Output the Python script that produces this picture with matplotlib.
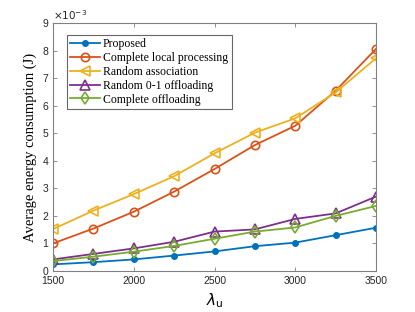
import matplotlib
matplotlib.use('Agg')
import matplotlib.pyplot as plt

# ==================== Data ====================
lam = [1500, 1750, 2000, 2250, 2500, 2750, 3000, 3250, 3500]

proposed = [0.24, 0.32, 0.42, 0.56, 0.71, 0.90, 1.03, 1.30, 1.57]
local_proc = [1.00, 1.54, 2.15, 2.88, 3.70, 4.57, 5.27, 6.54, 8.06]
rand_assoc = [1.52, 2.19, 2.79, 3.44, 4.27, 5.02, 5.54, 6.48, 7.72]
rand_01 = [0.42, 0.62, 0.82, 1.06, 1.43, 1.51, 1.89, 2.09, 2.70]
full_off = [0.36, 0.52, 0.70, 0.91, 1.17, 1.43, 1.58, 2.00, 2.36]

labels = ['Proposed', 'Complete local processing', 'Random association',
          'Random 0-1 offloading', 'Complete offloading']

# ==================== Plot ====================
fig = plt.figure(figsize=(4.15, 3.12), dpi=100)
ax = fig.add_axes([53 / 415, 1 - 271 / 312, (376 - 53) / 415, (271 - 23) / 312])

lw = 1.3
ax.plot(lam, proposed, '-o', color='#0072BD', lw=lw, ms=4, mfc='#0072BD', label=labels[0])
ax.plot(lam, local_proc, '-o', color='#D95319', lw=lw, ms=6, mfc='none', mew=1.2, label=labels[1])
ax.plot(lam, rand_assoc, '-<', color='#EDB120', lw=lw, ms=7, mfc='none', mew=1.2, label=labels[2])
ax.plot(lam, rand_01, '-^', color='#7E2F8E', lw=lw, ms=7, mfc='none', mew=1.2, label=labels[3])
ax.plot(lam, full_off, '-d', color='#77AC30', lw=lw, ms=6, mfc='none', mew=1.2, label=labels[4])

ax.set_xlim(1500, 3500)
ax.set_ylim(0, 9)
ax.set_xticks([1500, 2000, 2500, 3000, 3500])
ax.set_yticks(range(0, 10))

for s in ax.spines.values():
    s.set_color('#808080')
    s.set_linewidth(0.8)
ax.tick_params(direction='in', top=True, right=True, length=3, width=0.6,
               colors='#808080', labelcolor='#262626', labelsize=7.5)
for t in ax.get_xticklabels() + ax.get_yticklabels():
    t.set_family('Liberation Sans')

ax.text(0, 1.005, r'$\times 10^{-3}$', transform=ax.transAxes, fontsize=7.5,
        color='#262626', va='bottom', ha='left', family='Liberation Sans')

ax.set_ylabel('Average energy consumption (J)', family='Liberation Serif',
              fontsize=10.5, labelpad=4)
ax.set_xlabel(r'$\lambda_{\mathrm{u}}$', fontsize=11, labelpad=4)

leg = ax.legend(loc='upper left', bbox_to_anchor=(0.043, 0.952), fancybox=False,
                prop={'family': 'Liberation Serif', 'size': 8.5}, borderpad=0.3,
                labelspacing=0.15, handlelength=2.5, handletextpad=0.25,
                borderaxespad=0)
leg.get_frame().set_edgecolor('#404040')
leg.get_frame().set_linewidth(0.8)

fig.savefig('out.png', dpi=100)
